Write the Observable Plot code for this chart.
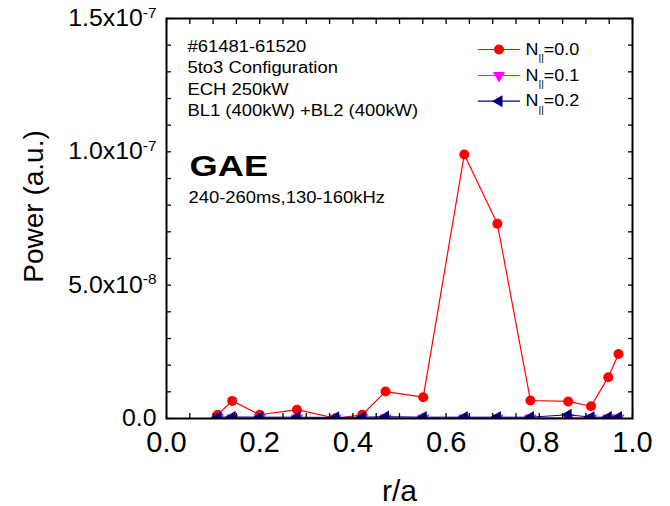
<!DOCTYPE html>
<html><head><meta charset="utf-8">
<script src="https://cdn.jsdelivr.net/npm/d3@7"></script>
<script src="https://cdn.jsdelivr.net/npm/@observablehq/plot@0.6"></script>
<style>
html,body{margin:0;padding:0;background:#fff;}
#chart svg{display:block;}
</style></head><body><div id="chart"></div>
<script>
// ---- data ----
const rOverA   = [0.110, 0.141, 0.200, 0.280, 0.363, 0.420, 0.470, 0.551, 0.639, 0.710, 0.781, 0.862, 0.911, 0.948, 0.970];
const powerN00 = [1.4e-9, 6.6e-9, 1.4e-9, 3.3e-9, 0.1e-9, 1.4e-9, 1.01e-8, 8.0e-9, 9.9e-8, 7.3e-8, 6.75e-9, 6.4e-9, 4.6e-9, 1.55e-8, 2.42e-8];
const powerN01 = [0.2e-9, 0.2e-9, 0.2e-9, 0.2e-9, 0.1e-9, 0.2e-9, 0.2e-9, 0.2e-9, 0.2e-9, 0.2e-9, 0.2e-9, 0.3e-9, 0.2e-9, 0.2e-9, 0.2e-9];
const powerN02 = [0.5e-9, 0.6e-9, 0.5e-9, 0.5e-9, 0.4e-9, 0.5e-9, 0.7e-9, 0.5e-9, 0.5e-9, 0.5e-9, 0.5e-9, 1.4e-9, 0.5e-9, 0.5e-9, 0.5e-9];
const seriesNames  = ["N_{||}=0.0", "N_{||}=0.1", "N_{||}=0.2"];
const seriesColors = ["#ff0000", "#ff00ff", "#000080"];
const xTickLabels = [0.0, 0.2, 0.4, 0.6, 0.8, 1.0];
const xMinorTicks = [0,0.05,0.1,0.15,0.2,0.25,0.3,0.35,0.4,0.45,0.5,0.55,0.6,0.65,0.7,0.75,0.8,0.85,0.9,0.95,1.0];
const yTickLabels = [0, 5e-8, 1e-7, 1.5e-7];
const yMinorTicks = [0,1e-8,2e-8,3e-8,4e-8,5e-8,6e-8,7e-8,8e-8,9e-8,1e-7,1.1e-7,1.2e-7,1.3e-7,1.4e-7,1.5e-7];
const annotationLines = ["#61481-61520", "5to3 Configuration", "ECH 250kW", "BL1 (400kW) +BL2 (400kW)"];
const annotationTitle = "GAE";
const annotationSub = "240-260ms,130-160kHz";
const xLabel = "r/a";
const yLabel = "Power (a.u.)";

// ---- build tables ----
const series = [powerN00, powerN01, powerN02].map((vals, s) =>
  rOverA.map((r, i) => ({r, p: vals[i], s})));

const lineShape = {draw(ctx, l) { ctx.moveTo(0, 0); ctx.lineTo(0, -l); }};
const symbols = [{symbol: "circle", rotate: 0, r: 5}, {symbol: "triangle", rotate: 180, r: 4.5}, {symbol: "triangle", rotate: -90, r: 4.5}];
const legendDy = [31, 57, 82.7];

const sciFmt = d => {
  if (d === 0) return "0.0";
  const [m, e] = d.toExponential(1).split("e");
  return `${m}x10^{${+e}}`;
};

const marks = [];
series.forEach((rows, s) => {
  marks.push(Plot.line(rows, {x: "r", y: "p", stroke: seriesColors[s], strokeWidth: s === 0 ? 1.2 : 1, clip: true}));
  marks.push(Plot.dot(rows, {x: "r", y: "p", fill: seriesColors[s], stroke: "none", symbol: symbols[s].symbol, rotate: symbols[s].rotate, r: symbols[s].r, clip: true}));
});
marks.push(Plot.frame({stroke: "black", strokeWidth: 2}));
// inward minor ticks on all four sides
marks.push(Plot.axisX(xMinorTicks, {anchor: "bottom", tickSize: -5, tickFormat: () => "", label: null, strokeWidth: 1.3}));
marks.push(Plot.axisX(xMinorTicks, {anchor: "top", tickSize: -5, tickFormat: () => "", label: null, strokeWidth: 1.3}));
marks.push(Plot.axisY(yMinorTicks, {anchor: "left", tickSize: -5, tickFormat: () => "", label: null, strokeWidth: 1.3}));
marks.push(Plot.axisY(yMinorTicks, {anchor: "right", tickSize: -5, tickFormat: () => "", label: null, strokeWidth: 1.3}));
// tick labels
marks.push(Plot.axisX(xTickLabels, {anchor: "bottom", tickSize: 0, tickPadding: 13, fontSize: 29, tickFormat: d => d.toFixed(1), label: null}));
marks.push(Plot.axisY(yTickLabels, {anchor: "left", tickSize: 0, tickPadding: 10, fontSize: 23, tickFormat: sciFmt, label: null}));
// axis titles
marks.push(Plot.text([yLabel], {text: d => d, frameAnchor: "left", rotate: -90, dx: -132, dy: -12, fontSize: 28, textAnchor: "middle", lineAnchor: "middle"}));
marks.push(Plot.text([xLabel], {text: d => d, frameAnchor: "bottom", dy: 73, fontSize: 30, textAnchor: "middle", lineAnchor: "middle"}));
// annotations
annotationLines.forEach((t, i) => {
  marks.push(Plot.text([t], {text: d => d, frameAnchor: "top-left", dx: 21, dy: 28.7 + i * 21.1, fontSize: 16, textAnchor: "start", lineAnchor: "middle", className: "ann"}));
});
marks.push(Plot.text([annotationTitle], {text: d => d, frameAnchor: "top-left", dx: 23, dy: 148, fontSize: 29, fontWeight: "bold", textAnchor: "start", lineAnchor: "middle", className: "gae"}));
marks.push(Plot.text([annotationSub], {text: d => d, frameAnchor: "top-left", dx: 22, dy: 179.3, fontSize: 16, textAnchor: "start", lineAnchor: "middle", className: "ann"}));
// legend
seriesNames.forEach((name, s) => {
  marks.push(Plot.vector([0], {frameAnchor: "top-left", dx: 332.5, dy: legendDy[s], length: 41, rotate: 90, anchor: "middle", shape: lineShape, stroke: seriesColors[s], strokeWidth: 1.2}));
  marks.push(Plot.dot([0], {frameAnchor: "top-left", dx: 332.5, dy: legendDy[s], fill: seriesColors[s], stroke: "none", symbol: symbols[s].symbol, rotate: symbols[s].rotate, r: symbols[s].r}));
  marks.push(Plot.text([name], {text: d => d, frameAnchor: "top-left", dx: 359, dy: legendDy[s], fontSize: 16, textAnchor: "start", lineAnchor: "middle", className: "leg"}));
});

const chart = Plot.plot({
  width: 670, height: 506,
  marginLeft: 166, marginRight: 38, marginTop: 18, marginBottom: 88,
  style: {fontFamily: "'Liberation Sans', Arial, Helvetica, sans-serif", fontSize: "16px", color: "black", background: "white", overflow: "visible"},
  x: {domain: [0, 1]},
  y: {domain: [0, 1.5e-7]},
  marks
});
document.getElementById("chart").appendChild(chart);

// ---- rich text: superscripts / subscripts ----
function richify(el) {
  const s = el.textContent;
  if (!/[\^_]\{/.test(s)) return;
  const fs = parseFloat(getComputedStyle(el).fontSize);
  el.textContent = "";
  const parts = s.split(/([\^_]\{[^}]*\})/).filter(p => p !== "");
  let cur = 0;
  for (const p of parts) {
    const t = document.createElementNS("http://www.w3.org/2000/svg", "tspan");
    let target = 0;
    if (p[0] === "^") { target = -0.36 * fs; t.setAttribute("font-size", 0.62 * fs); t.textContent = p.slice(2, -1); }
    else if (p[0] === "_") { target = 0.42 * fs; t.setAttribute("font-size", 0.58 * fs); t.textContent = p.slice(2, -1); }
    else t.textContent = p;
    if (target !== cur) t.setAttribute("dy", target - cur);
    cur = target;
    el.appendChild(t);
  }
}
chart.querySelectorAll("text").forEach(richify);

// ---- horizontal glyph widening to match the reference lettering ----
function widen(sel, f) {
  chart.querySelectorAll(sel).forEach(el => {
    const L = el.getComputedTextLength();
    if (L > 0) { el.setAttribute("textLength", L * f); el.setAttribute("lengthAdjust", "spacingAndGlyphs"); }
  });
}
widen("g.ann text", 1.15);
widen("g.gae text", 1.25);
widen("g.leg text", 1.12);
widen('g[aria-label="y-axis tick label"] text', 1.08);
</script>
</body></html>
